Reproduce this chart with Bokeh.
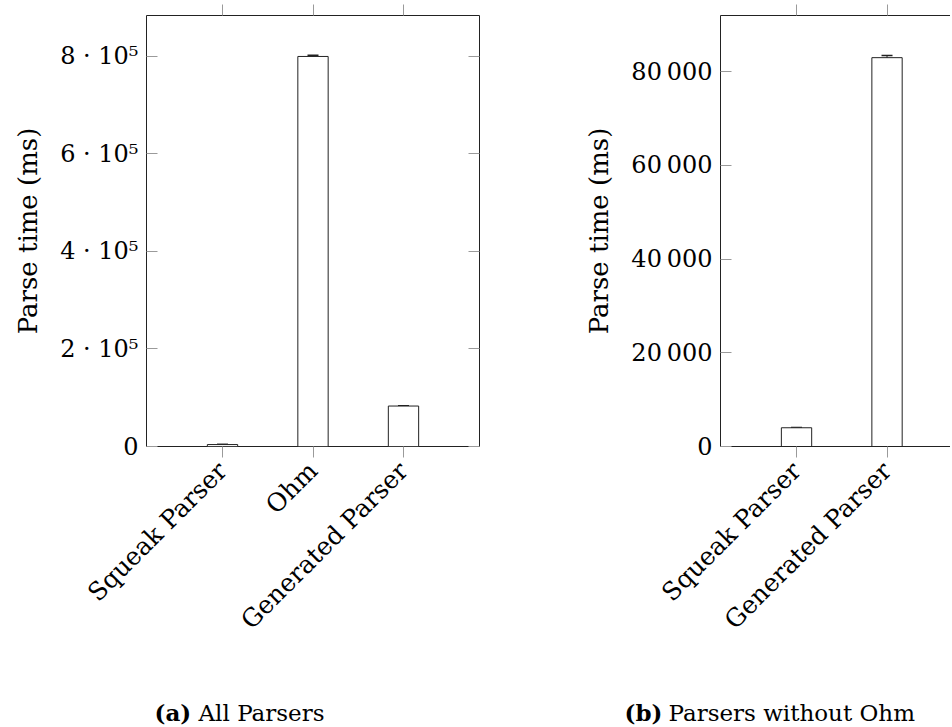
from bokeh.plotting import figure
from bokeh.models import (Range1d, FixedTicker, LinearAxis, Whisker, TeeHead,
                          ColumnDataSource)
from bokeh.core.properties import value
from bokeh.layouts import row, column
from bokeh.embed import file_html
from bokeh.resources import INLINE
import math

# ---- data ----
cats_a = ["Squeak Parser", "Ohm", "Generated Parser"]
vals_a = [4000, 800000, 83000]
errs_a = [60, 2500, 450]

cats_b = ["Squeak Parser", "Generated Parser"]
vals_b = [4000, 83000]
errs_b = [60, 450]

yticks_a = [0, 200000, 400000, 600000, 800000]
ytick_labels_a = ["0", "2 · 10⁵", "4 · 10⁵", "6 · 10⁵", "8 · 10⁵"]
yticks_b = [0, 20000, 40000, 60000, 80000]
ytick_labels_b = ["0", "20\u2009000", "40\u2009000", "60\u2009000", "80\u2009000"]

caption_tags = ["(a)", "(b)"]
caption_texts = ["All Parsers", "Parsers without Ohm"]

FONT = "DejaVu Serif"
FS = "24px"
AXL_FS = "26px"
CAT_FS = "25px"
TICK_COL = "#9a9a9a"
FRAME_COL = "#222222"


def blank_axis(ticker, tick_in, tick_out):
    a = LinearAxis(ticker=ticker)
    a.major_label_overrides = {t: "" for t in ticker.ticks}
    a.major_tick_in = tick_in
    a.major_tick_out = tick_out
    a.major_tick_line_color = TICK_COL
    a.minor_tick_line_color = None
    a.axis_line_color = None
    a.major_label_standoff = 0
    a.major_label_text_font_size = "1px"
    return a


def make_panel(cats, vals, errs, yticks, ylabels, ymax, frame_w, x_end,
               min_right, outline, right_ticks):
    xs = list(range(len(cats)))
    p = figure(frame_width=frame_w, frame_height=431,
               x_range=Range1d(-0.84, x_end), y_range=Range1d(0, ymax),
               output_backend="svg", toolbar_location=None,
               min_border_left=146, min_border_right=min_right,
               min_border_top=15, min_border_bottom=240,
               x_axis_location=None, y_axis_location=None)
    p.xgrid.visible = False
    p.ygrid.visible = False
    p.background_fill_color = "white"
    p.border_fill_color = "white"
    p.outline_line_color = FRAME_COL if outline else None

    xt = FixedTicker(ticks=xs)
    yt = FixedTicker(ticks=yticks)

    bx = LinearAxis(ticker=xt, major_label_overrides={i: c for i, c in zip(xs, cats)})
    bx.major_label_orientation = math.pi / 4
    bx.major_tick_in = 0
    bx.major_tick_out = 11
    bx.major_tick_line_color = TICK_COL
    bx.minor_tick_line_color = None
    bx.axis_line_color = None if outline else FRAME_COL
    bx.major_label_text_font = FONT
    bx.major_label_text_font_size = CAT_FS
    bx.major_label_text_color = "black"
    bx.major_label_standoff = 9
    p.add_layout(bx, "below")

    ax = blank_axis(xt, 0, 11)
    if not outline:
        ax.axis_line_color = FRAME_COL
    p.add_layout(ax, "above")

    ly = LinearAxis(ticker=yt, major_label_overrides={t: l for t, l in zip(yticks, ylabels)})
    ly.major_tick_in = 11
    ly.major_tick_out = 0
    ly.major_tick_line_color = TICK_COL
    ly.minor_tick_line_color = None
    ly.axis_line_color = None if outline else FRAME_COL
    ly.major_label_text_font = FONT
    ly.major_label_text_font_size = FS
    ly.major_label_text_color = "black"
    ly.major_label_standoff = 8
    ly.axis_label = "Parse time (ms)"
    ly.axis_label_text_font = FONT
    ly.axis_label_text_font_size = AXL_FS
    ly.axis_label_text_font_style = "normal"
    ly.axis_label_text_color = "black"
    ly.axis_label_standoff = 14
    p.add_layout(ly, "left")

    if right_ticks:
        p.add_layout(blank_axis(yt, 11, 0), "right")

    p.vbar(x=xs, top=vals, width=0.335, bottom=0, fill_color="white",
           line_color=FRAME_COL, line_width=1)

    src = ColumnDataSource(dict(x=xs, upper=[v + e for v, e in zip(vals, errs)],
                                lower=[v - e for v, e in zip(vals, errs)]))
    w = Whisker(base="x", upper="upper", lower="lower", source=src,
                line_color=FRAME_COL, line_width=1,
                upper_head=TeeHead(size=11, line_color=FRAME_COL, line_width=1.5),
                lower_head=TeeHead(size=11, line_color=FRAME_COL, line_width=1.5))
    p.add_layout(w)
    return p


p1 = make_panel(cats_a, vals_a, errs_a, yticks_a, ytick_labels_a, 884000,
                333, 2.84, 95, True, True)
p2 = make_panel(cats_b, vals_b, errs_b, yticks_b, ytick_labels_b, 92000,
                230, -0.84 + 230 / 90.5, 0, False, False)

# caption strip (screen-pixel coordinates of the page)
cap = figure(width=950, height=40, x_range=Range1d(0, 950), y_range=Range1d(0, 40),
             output_backend="svg", toolbar_location=None,
             min_border_left=0, min_border_right=0, min_border_top=0, min_border_bottom=0,
             x_axis_location=None, y_axis_location=None)
cap.xgrid.visible = False
cap.ygrid.visible = False
cap.outline_line_color = None
cap.border_fill_color = "white"
tag_x = [154, 624]
text_x = [198, 668]
base_y = [14, 14]
cap.text(x=tag_x, y=base_y, text=caption_tags, text_font=value(FONT),
         text_font_size="23px", text_font_style="bold", text_baseline="alphabetic",
         text_color="black")
cap.text(x=text_x, y=base_y, text=caption_texts, text_font=value(FONT),
         text_font_size="23px", text_font_style="normal", text_baseline="alphabetic",
         text_color="black")

layout = column(row(p1, p2, spacing=0), cap, spacing=0)
open("out.html", "w").write(file_html(layout, INLINE))
